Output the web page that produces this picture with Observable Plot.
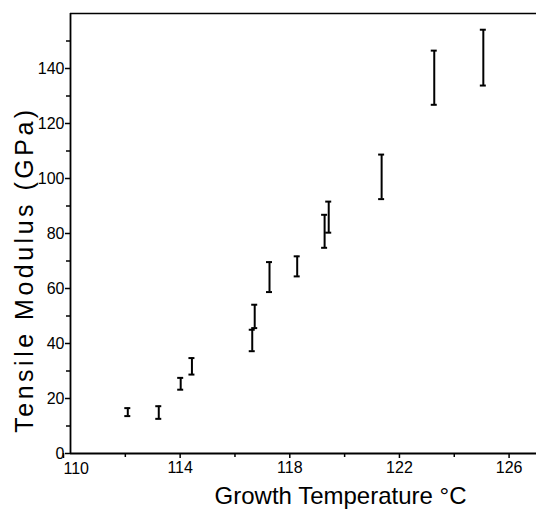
<!DOCTYPE html>
<html>
<head>
<meta charset="utf-8">
<script src="https://cdn.jsdelivr.net/npm/d3@7"></script>
<script src="https://cdn.jsdelivr.net/npm/@observablehq/plot@0.6"></script>
<style>
  html, body { margin: 0; padding: 0; background: #fff; }
</style>
</head>
<body>
<div id="chart"></div>
<script>
// Growth temperature (°C) for each measurement
const temps = [112.09, 113.22, 114.02, 114.43, 116.63, 116.72, 117.26, 118.27, 119.27, 119.42, 121.35, 123.27, 125.06];
// Lower end of each error bar (GPa)
const lows  = [13.6, 12.6, 23.2, 28.7, 37.2, 45.6, 58.7, 64.4, 74.8, 80.3, 92.5, 126.8, 133.8];
// Upper end of each error bar (GPa)
const highs = [16.5, 17.2, 27.5, 34.7, 45.0, 54.1, 69.6, 71.7, 86.8, 91.6, 108.7, 146.5, 154.1];

const xFirstTick = [110];
const xMajorTicks = [114, 118, 122, 126];
const xMinorTicks = [112, 116, 120, 124];
const yMajorTicks = [0, 20, 40, 60, 80, 100, 120, 140];
const yMinorTicks = [10, 30, 50, 70, 90, 110, 130, 150];

const xTitle = "Growth Temperature °C";
const yTitle = "Tensile Modulus (GPa)";

const data = temps.map((T, i) => ({T, lo: lows[i], hi: highs[i]}));

const tickFont = "'Liberation Sans Narrow', 'Liberation Sans', sans-serif";
const titleFont = "'Liberation Sans', Arial, sans-serif";

const chart = Plot.plot({
  width: 536,
  height: 509,
  marginLeft: 70,
  marginRight: 0,
  marginTop: 13,
  marginBottom: 56,
  x: {domain: [110, 127], label: null},
  y: {domain: [0, 160], label: null},
  style: {fontFamily: tickFont, fontSize: "16px", color: "#000", background: "#fff"},
  marks: [
    // minor ticks
    Plot.axisX({ticks: xMinorTicks, tickSize: 4, tickFormat: () => "", strokeWidth: 1.5, label: null}),
    Plot.axisY({ticks: yMinorTicks, tickSize: 4, tickFormat: () => "", strokeWidth: 1.5, label: null}),
    // major ticks with labels
    Plot.axisX({ticks: xMajorTicks, tickSize: 5, tickPadding: 3, tickFormat: d => String(d),
      fontSize: 16, fontFamily: tickFont, strokeWidth: 1.5, label: null}),
    Plot.axisX({ticks: xFirstTick, tickSize: 5, tickPadding: 4, tickFormat: d => String(d),
      fontSize: 16, fontFamily: tickFont, strokeWidth: 1.5, label: null, textAnchor: "start", dx: -7}),
    Plot.axisY({ticks: yMajorTicks, tickSize: 5, tickPadding: 1, tickFormat: d => String(d),
      fontSize: 16, fontFamily: tickFont, strokeWidth: 1.5, label: null}),
    // frame lines (left, bottom, top)
    Plot.ruleX([110], {strokeWidth: 1.8}),
    Plot.ruleY([0], {strokeWidth: 1.8}),
    Plot.ruleY([160], {strokeWidth: 1.5}),
    // error bars
    Plot.ruleX(data, {x: "T", y1: "lo", y2: "hi", strokeWidth: 2}),
    Plot.ruleY(data, {x1: "T", x2: "T", y: "lo", insetLeft: -3, insetRight: -3, strokeWidth: 2}),
    Plot.ruleY(data, {x1: "T", x2: "T", y: "hi", insetLeft: -3, insetRight: -3, strokeWidth: 2}),
    // axis titles
    Plot.text([xTitle], {frameAnchor: "bottom", textAnchor: "middle", lineAnchor: "middle",
      dx: 37, dy: 43, fontSize: 24, fontFamily: titleFont, fill: "#000"}),
    Plot.text([yTitle], {frameAnchor: "left", textAnchor: "middle", lineAnchor: "middle", rotate: -90,
      dx: -46, dy: 36, fontSize: 25, fontFamily: titleFont, fill: "#000"})
  ]
});

chart.querySelectorAll("text").forEach(t => {
  if (t.textContent === yTitle) t.style.letterSpacing = "3.5px";
});

document.getElementById("chart").appendChild(chart);
</script>
</body>
</html>
